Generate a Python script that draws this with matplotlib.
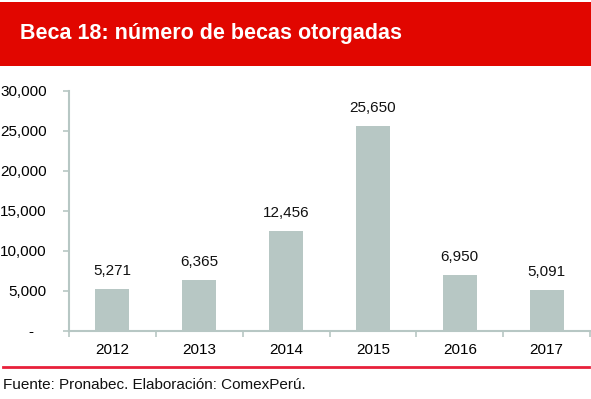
import matplotlib.pyplot as plt
import matplotlib.ticker as mticker
import numpy as np

years = ["2012", "2013", "2014", "2015", "2016", "2017"]
becas = [5271, 6365, 12456, 25650, 6950, 5091]
y_ticks = [0, 5000, 10000, 15000, 20000, 25000, 30000]

plt.rcParams['font.family'] = ['Liberation Sans', 'DejaVu Sans']

W, H = 591, 399
fig = plt.figure(figsize=(W / 100, H / 100), dpi=100)

# title banner
banner = fig.add_axes([0, 1 - 66 / H, 1, 64 / H])
banner.set_facecolor("#E10600")
banner.set_xticks([])
banner.set_yticks([])
for s in banner.spines.values():
    s.set_visible(False)
banner.text(20 / W, 0.5, "Beca 18: número de becas otorgadas", transform=banner.transAxes,
            color="white", fontsize=15.5, fontweight="bold", ha="left", va="center")

# bar chart
ax = fig.add_axes([69 / W, 1 - 331 / H, 521 / W, 240 / H])
x = np.arange(len(years))
bars = ax.bar(x, becas, width=0.39, color="#B7C7C4")
for bar, v in zip(bars, becas):
    ax.annotate(f"{v:,}", (bar.get_x() + bar.get_width() / 2, v),
                xytext=(0, 8), textcoords="offset points",
                ha="center", va="bottom", fontsize=11, color="#111111")

ax.set_xlim(-0.5, len(years) - 0.5)
ax.set_ylim(0, 30000)
ax.set_yticks(y_ticks)
ax.yaxis.set_major_formatter(mticker.FuncFormatter(lambda v, p: "-   " if v == 0 else f"{v:,.0f}"))
ax.set_xticks(x)
ax.set_xticklabels(years)
ax.set_xticks(np.arange(-0.5, len(years)), minor=True)
ax.tick_params(axis="x", which="major", length=0, labelsize=11, pad=9)
ax.tick_params(axis="x", which="minor", length=4, color="#B7C7C4", width=1.2)
ax.tick_params(axis="y", length=4, color="#B7C7C4", width=1.2, labelsize=11, pad=12)
for side in ["top", "right"]:
    ax.spines[side].set_visible(False)
for side in ["left", "bottom"]:
    ax.spines[side].set_color("#B7C7C4")
    ax.spines[side].set_linewidth(1.5)

# red separator line and source
fig.add_artist(plt.Line2D([3 / W, 589 / W], [1 - 367 / H, 1 - 367 / H],
                          color="#E8203A", linewidth=2))
fig.text(3 / W, 1 - 385 / H, "Fuente: Pronabec. Elaboración: ComexPerú.",
         fontsize=11, ha="left", va="center", color="#111111")

fig.savefig("out.png", dpi=100)
